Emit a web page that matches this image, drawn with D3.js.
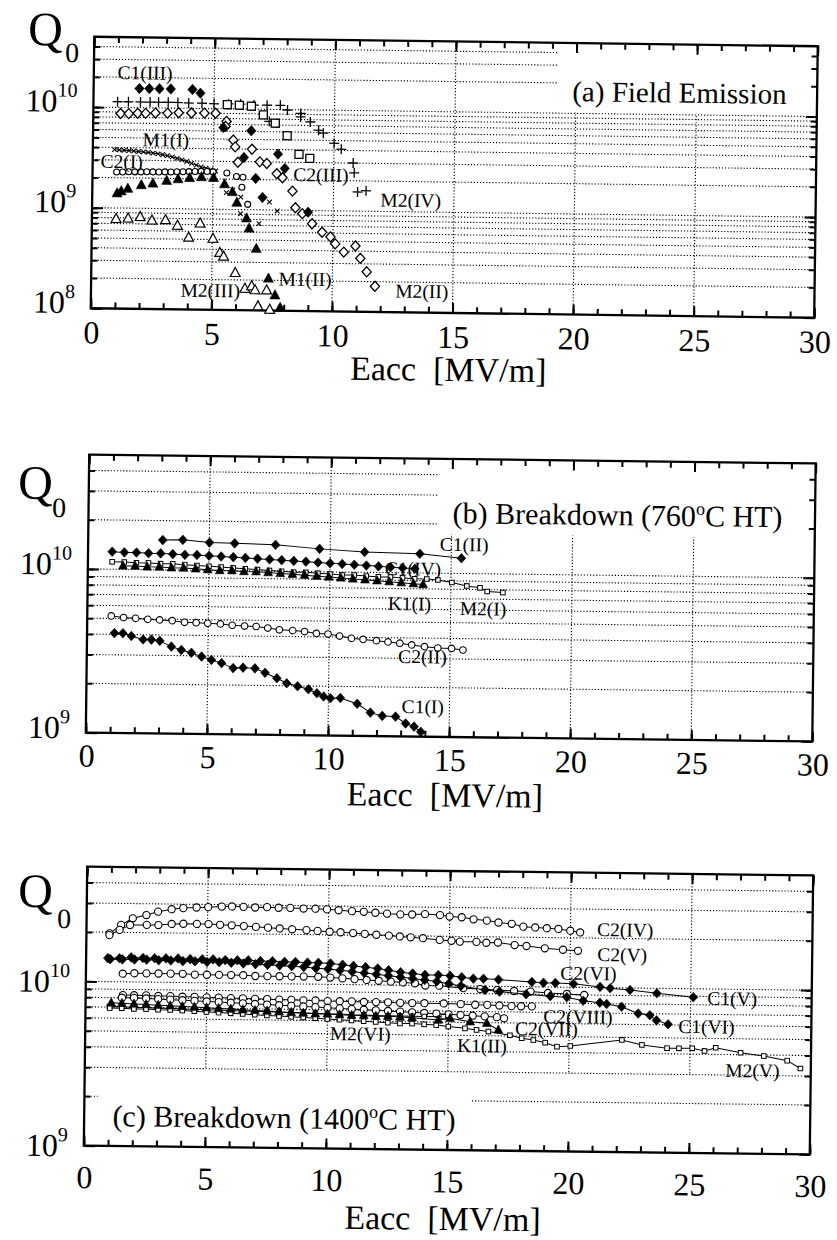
<!DOCTYPE html>
<html><head><meta charset="utf-8">
<script src="https://cdn.jsdelivr.net/npm/d3@7"></script>
<style>
body{margin:0;background:#fff}
svg{display:block}
text{font-family:"Liberation Serif","Times New Roman",serif;fill:#000}
</style>
</head><body>
<script>
// ======================= DATA =======================
const xTickValues = [0,5,10,15,20,25,30];
const xTitle = ["Eacc", "[MV/m]"];
const yTitle = ["Q", "0"];
const yExpA = [8,9,10];
const yExpB = [9,10];
const yExpC = [9,10];
const titleA = [["(a) Field Emission",false]];
const titleB = [["(b) Breakdown (760",false],["o",true],["C HT)",false]];
const titleC = [["(c) Breakdown (1400",false],["o",true],["C HT)",false]];

// ---- panel (a) Field Emission ----
const a_C1_III = [[1.9,1.55e10],[2.31,1.55e10],[2.73,1.55e10],[3.2,1.55e10],[4.1,1.54e10],[4.43,1.42e10],[5.4,6.5e9],[6.56,6.1e9],[6.27,3.3e9],[7.68,3.6e9],[6.77,2.05e9],[7.97,2.6e9],[7.06,1.33e9],[8.96,9.6e8]];
const a_M2_IV = [[1.0,1.14e10],[1.45,1.14e10],[1.95,1.14e10],[2.35,1.14e10],[2.7,1.14e10],[3.1,1.14e10],[3.5,1.14e10],[3.95,1.13e10],[4.5,1.13e10],[5.0,1.12e10],[5.6,1.12e10],[6.1,1.12e10],[6.65,1.1e10],[7.2,1.1e10],[7.3,7.6e9],[7.75,1.1e10],[8.05,9.9e9],[8.6,9.2e9],[8.6,8.5e9],[9.0,7.6e9],[9.35,6.3e9],[9.55,5.9e9],[10.0,4.7e9],[10.3,4.1e9],[10.8,3.0e9],[10.85,2.4e9],[11.0,1.55e9],[11.35,1.6e9]];
const a_C2_III = [[5.55,1.1e10],[6.05,1.09e10],[6.55,1.07e10],[7.05,8.8e9],[7.55,7.3e9],[8.05,5.5e9],[8.55,3.6e9],[9.0,3.3e9]];
const a_M2_II = [[1.13,8.7e9],[1.47,8.7e9],[1.84,8.8e9],[2.17,8.8e9],[2.58,8.9e9],[3.08,8.9e9],[3.54,9.0e9],[4.07,9.0e9],[4.61,9.0e9],[5.07,9.0e9],[5.53,7.5e9],[5.49,6.7e9],[5.82,4.9e9],[5.9,4.2e9],[6.6,4.0e9],[6.02,2.95e9],[6.93,3.0e9],[7.22,2.9e9],[7.64,2.3e9],[7.88,2.1e9],[8.3,1.55e9],[8.43,1.06e9],[8.72,9.3e8],[9.13,7.4e8],[9.55,6.1e8],[9.9,5.5e8],[10.1,4.7e8],[10.46,3.9e8],[10.94,4.5e8],[11.15,3.4e8],[11.42,2.5e8],[11.77,1.8e8]];
const a_M1_I = [[0.9,3.8e9],[1.1,3.78e9],[1.3,3.76e9],[1.5,3.74e9],[1.7,3.71e9],[1.9,3.67e9],[2.1,3.64e9],[2.3,3.6e9],[2.5,3.55e9],[2.7,3.5e9],[2.9,3.43e9],[3.1,3.36e9],[3.3,3.27e9],[3.5,3.17e9],[3.7,3.07e9],[3.9,2.96e9],[4.1,2.84e9],[4.3,2.73e9],[4.5,2.63e9],[4.7,2.55e9],[4.9,2.47e9],[5.1,2.4e9]];
const a_M1_I_tail = [[5.56,1.47e9],[5.82,1.57e9],[6.16,1.33e9],[6.16,9.1e8],[6.93,7.3e8],[7.35,1.2e9],[7.68,9.8e8]];
const a_C2_I = [[1.0,2.28e9],[1.25,2.28e9],[1.5,2.3e9],[1.75,2.3e9],[2.0,2.3e9],[2.25,2.31e9],[2.5,2.31e9],[2.75,2.31e9],[3.0,2.32e9],[3.25,2.32e9],[3.5,2.33e9],[3.75,2.34e9],[4.0,2.35e9],[4.25,2.36e9],[4.5,2.37e9],[4.75,2.37e9],[5.0,2.35e9],[5.57,2.3e9],[5.97,2.13e9],[6.24,2.1e9],[6.2,1.67e9],[6.45,1.13e9]];
const a_M1_II = [[1.03,1.4e9],[1.2,1.47e9],[1.47,1.56e9],[2.03,1.7e9],[2.51,1.77e9],[3.08,1.89e9],[3.55,1.97e9],[4.03,2.03e9],[4.52,2.08e9],[5.02,2.05e9],[5.48,1.78e9],[5.81,1.49e9],[6.0,1.17e9],[6.41,8.2e8],[6.52,6.5e8],[6.83,4.1e8],[7.35,2.08e8],[7.63,1.42e8],[7.85,1.07e8]];
const a_M2_III = [[1.0,7.8e8],[1.5,7.9e8],[2.0,8.2e8],[2.49,7.6e8],[3.05,7.7e8],[3.55,6.8e8],[4.02,5.2e8],[4.49,7.2e8],[5.03,5.1e8],[5.32,3.7e8],[5.48,3.4e8],[5.97,2.35e8],[6.38,1.64e8],[6.66,1.74e8],[6.8,1.59e8],[7.28,1.59e8],[6.93,1.1e8],[7.42,1.02e8]];

// ---- panel (b) Breakdown 760C ----
const b_C1_II = [[3.08,1.52e10],[3.91,1.53e10],[5.01,1.48e10],[6.05,1.47e10],[7.74,1.45e10],[9.56,1.38e10],[11.42,1.33e10],[13.7,1.31e10],[15.42,1.24e10]];
const b_C1_IV = [[1.0,1.28e10],[1.5,1.27e10],[2.0,1.27e10],[2.5,1.26e10],[3.0,1.26e10],[3.5,1.25e10],[4.0,1.24e10],[4.5,1.24e10],[5.0,1.23e10],[5.5,1.22e10],[6.0,1.21e10],[6.5,1.2e10],[7.0,1.19e10],[7.5,1.18e10],[8.0,1.17e10],[8.5,1.16e10],[9.0,1.15e10],[9.5,1.14e10],[10.0,1.13e10],[10.5,1.12e10],[11.0,1.11e10],[11.5,1.1e10],[12.0,1.09e10],[12.5,1.08e10],[13.0,1.07e10],[13.5,1.06e10]];
const b_M2_I = [[1.0,1.11e10],[1.5,1.11e10],[2.0,1.1e10],[2.5,1.1e10],[3.0,1.09e10],[3.5,1.09e10],[4.0,1.08e10],[4.5,1.07e10],[5.0,1.06e10],[5.5,1.05e10],[6.0,1.04e10],[6.5,1.03e10],[7.0,1.02e10],[7.5,1.01e10],[8.0,1.0e10],[8.5,9.9e9],[9.0,9.9e9],[9.5,9.8e9],[10.0,9.7e9],[10.5,9.6e9],[11.0,9.6e9],[11.5,9.5e9],[12.0,9.4e9],[12.5,9.4e9],[13.0,9.3e9],[13.5,9.2e9],[14.0,9.2e9],[14.46,9.1e9],[15.04,8.8e9],[15.66,8.4e9],[16.2,8.2e9],[16.5,7.8e9],[17.15,7.7e9]];
const b_K1_I = [[1.45,1.05e10],[1.95,1.05e10],[2.45,1.04e10],[2.95,1.04e10],[3.45,1.03e10],[3.95,1.03e10],[4.45,1.02e10],[4.95,1.01e10],[5.45,1.0e10],[5.95,1.0e10],[6.45,9.9e9],[6.95,9.9e9],[7.45,9.8e9],[7.95,9.7e9],[8.45,9.6e9],[8.95,9.5e9],[9.45,9.4e9],[9.95,9.3e9],[10.45,9.2e9],[10.95,9.1e9],[11.45,9.0e9],[11.95,8.9e9],[12.45,8.8e9],[12.95,8.7e9],[13.45,8.6e9],[13.85,8.5e9]];
const b_C2_II = [[0.99,5.18e9],[1.5,5.08e9],[2.0,5.03e9],[2.5,4.97e9],[2.99,4.94e9],[3.51,4.9e9],[4.02,4.8e9],[4.5,4.78e9],[4.98,4.75e9],[5.5,4.72e9],[5.99,4.64e9],[6.5,4.6e9],[6.98,4.58e9],[7.46,4.49e9],[7.94,4.39e9],[8.49,4.35e9],[8.98,4.3e9],[9.47,4.2e9],[9.95,4.17e9],[10.43,4.06e9],[10.92,3.94e9],[11.4,3.89e9],[11.95,3.83e9],[12.43,3.77e9],[12.92,3.71e9],[13.41,3.63e9],[13.94,3.55e9],[14.49,3.49e9],[15.06,3.48e9],[15.53,3.41e9]];
const b_C1_I = [[1.13,4.07e9],[1.48,4.07e9],[1.83,3.92e9],[2.32,3.74e9],[2.66,3.74e9],[3.01,3.68e9],[3.49,3.4e9],[3.9,3.25e9],[4.32,3.13e9],[4.74,2.97e9],[5.15,2.84e9],[5.57,2.72e9],[6.05,2.54e9],[6.46,2.56e9],[6.95,2.54e9],[7.37,2.39e9],[7.86,2.22e9],[8.27,2.07e9],[8.72,1.99e9],[9.17,1.91e9],[9.52,1.81e9],[9.8,1.73e9],[10.08,1.69e9],[10.49,1.7e9],[11.19,1.57e9],[11.74,1.39e9],[12.23,1.33e9],[12.78,1.32e9],[13.2,1.2e9],[13.55,1.15e9],[13.83,1.07e9]];

// ---- panel (c) Breakdown 1400C ----
const c_C2_IV = [[0.96,1.97e10],[1.43,2.22e10],[1.91,2.44e10],[2.47,2.56e10],[2.95,2.69e10],[3.51,2.79e10],[3.99,2.84e10],[4.54,2.87e10],[5.02,2.89e10],[5.58,2.92e10],[6.0,2.93e10],[6.48,2.92e10],[6.96,2.9e10],[7.45,2.92e10],[7.93,2.9e10],[8.41,2.9e10],[8.96,2.88e10],[9.45,2.88e10],[9.93,2.86e10],[10.41,2.83e10],[10.96,2.8e10],[11.45,2.78e10],[11.93,2.75e10],[12.41,2.72e10],[12.96,2.7e10],[13.45,2.7e10],[13.98,2.72e10],[14.6,2.69e10],[15.0,2.64e10],[15.5,2.62e10],[15.99,2.55e10],[16.54,2.51e10],[17.02,2.45e10],[17.57,2.41e10],[18.05,2.32e10],[18.54,2.3e10],[19.02,2.28e10],[19.5,2.26e10],[19.99,2.21e10],[20.4,2.16e10]];
const c_C2_V = [[0.95,1.92e10],[1.37,2.07e10],[1.8,2.22e10],[2.49,2.23e10],[2.97,2.23e10],[3.52,2.27e10],[4.0,2.28e10],[4.56,2.28e10],[5.04,2.28e10],[5.52,2.26e10],[6.0,2.25e10],[6.5,2.23e10],[7.0,2.21e10],[7.5,2.19e10],[7.98,2.17e10],[8.5,2.15e10],[9.09,2.13e10],[9.55,2.11e10],[10.05,2.09e10],[10.5,2.08e10],[11.02,2.06e10],[11.5,2.04e10],[11.98,2.02e10],[12.5,2.0e10],[12.95,1.98e10],[13.4,1.96e10],[13.91,1.94e10],[14.6,1.9e10],[15.09,1.88e10],[15.43,1.86e10],[16.12,1.86e10],[16.53,1.84e10],[17.01,1.85e10],[17.7,1.79e10],[18.19,1.77e10],[18.95,1.72e10],[19.7,1.69e10],[20.32,1.67e10]];
const c_C2_VI = [[1.52,1.12e10],[2.0,1.13e10],[2.5,1.13e10],[3.0,1.13e10],[3.5,1.13e10],[4.0,1.13e10],[4.5,1.12e10],[5.0,1.12e10],[5.5,1.12e10],[6.0,1.12e10],[6.5,1.12e10],[7.0,1.11e10],[7.5,1.11e10],[8.0,1.11e10],[8.5,1.11e10],[9.0,1.11e10],[9.6,1.11e10],[10.1,1.1e10],[10.6,1.09e10],[11.1,1.08e10],[11.6,1.07e10],[12.1,1.06e10],[12.6,1.05e10],[13.1,1.04e10],[13.6,1.03e10],[14.03,1.0e10],[14.6,1.0e10],[15.6,9.7e9],[16.3,9.6e9],[17.0,9.5e9],[17.7,9.4e9],[18.38,9.35e9],[19.1,9.2e9],[19.88,9.1e9],[20.6,9.0e9]];
const c_C1_V = [[0.9,1.39e10],[1.38,1.39e10],[1.86,1.41e10],[2.35,1.4e10],[2.83,1.4e10],[3.3,1.4e10],[3.8,1.4e10],[4.3,1.39e10],[4.8,1.39e10],[5.25,1.39e10],[5.75,1.38e10],[6.25,1.38e10],[6.7,1.38e10],[7.2,1.37e10],[7.7,1.37e10],[8.2,1.36e10],[8.65,1.36e10],[9.15,1.35e10],[9.6,1.35e10],[10.1,1.34e10],[10.6,1.32e10],[11.05,1.3e10],[11.55,1.28e10],[12.05,1.26e10],[12.5,1.23e10],[13.0,1.2e10],[13.5,1.18e10],[14.01,1.16e10],[14.56,1.16e10],[15.05,1.15e10],[15.53,1.13e10],[16.01,1.11e10],[16.43,1.11e10],[17.05,1.1e10],[18.43,1.07e10],[18.91,1.06e10],[19.4,1.06e10],[20.15,1.05e10],[21.25,1.01e10],[21.67,9.93e9],[22.49,9.73e9],[23.6,9.33e9],[25.11,8.88e9]];
const c_C1_VI = [[1.0,1.37e10],[1.5,1.37e10],[2.0,1.37e10],[2.5,1.37e10],[3.0,1.36e10],[3.5,1.36e10],[4.0,1.35e10],[4.5,1.35e10],[5.0,1.34e10],[5.5,1.34e10],[6.0,1.33e10],[6.5,1.32e10],[7.0,1.31e10],[7.5,1.3e10],[8.0,1.29e10],[8.5,1.28e10],[9.0,1.27e10],[9.5,1.25e10],[10.0,1.24e10],[10.5,1.22e10],[11.0,1.2e10],[11.5,1.18e10],[12.0,1.16e10],[12.5,1.14e10],[13.0,1.12e10],[13.5,1.1e10],[14.0,1.08e10],[14.5,1.06e10],[15.0,1.03e10],[15.5,1.0e10],[16.5,9.5e9],[17.1,9.3e9],[18.2,9.0e9],[19.2,8.8e9],[19.88,8.7e9],[20.56,8.3e9],[21.25,8.09e9],[21.53,7.96e9],[22.15,7.68e9],[22.84,7.0e9],[23.32,6.85e9],[23.6,6.38e9],[24.08,6.05e9]];
const c_C2_VIII = [[1.54,8.3e9],[2.0,8.3e9],[2.5,8.3e9],[3.0,8.25e9],[3.5,8.25e9],[4.0,8.2e9],[4.5,8.2e9],[5.0,8.15e9],[5.5,8.15e9],[6.0,8.1e9],[6.5,8.1e9],[7.0,8.05e9],[7.5,8.05e9],[8.0,8.0e9],[8.5,8.0e9],[9.0,7.95e9],[9.5,7.95e9],[10.0,7.9e9],[10.5,7.9e9],[11.0,7.9e9],[11.5,7.85e9],[12.0,7.85e9],[12.5,7.85e9],[13.0,7.8e9],[13.5,7.8e9],[14.0,7.8e9],[14.8,7.8e9],[15.5,7.75e9],[16.1,7.7e9],[16.6,7.7e9],[17.1,7.65e9],[17.6,7.6e9],[18.0,7.6e9],[18.44,7.6e9]];
const c_C2_VII = [[1.5,8.0e9],[2.0,8.0e9],[2.5,7.95e9],[3.0,7.9e9],[3.5,7.85e9],[4.0,7.8e9],[4.5,7.75e9],[5.0,7.7e9],[5.5,7.65e9],[6.0,7.6e9],[6.5,7.55e9],[7.0,7.5e9],[7.5,7.45e9],[8.0,7.4e9],[8.5,7.35e9],[9.0,7.3e9],[9.5,7.25e9],[10.0,7.2e9],[10.5,7.15e9],[11.0,7.1e9],[11.5,7.05e9],[12.0,7.0e9],[12.5,6.95e9],[13.0,6.9e9],[13.5,6.85e9],[14.0,6.8e9],[14.5,6.75e9],[15.0,6.7e9],[15.5,6.65e9],[16.0,6.6e9],[16.5,6.55e9],[17.0,6.5e9],[17.3,6.4e9]];
const c_M2_VI = [[0.99,7.05e9],[1.5,7.05e9],[2.0,7.0e9],[2.5,7.0e9],[3.0,6.95e9],[3.5,6.95e9],[4.0,6.9e9],[4.5,6.9e9],[5.0,6.85e9],[5.5,6.85e9],[6.0,6.8e9],[6.5,6.8e9],[7.0,6.75e9],[7.5,6.75e9],[8.0,6.7e9],[8.5,6.7e9],[9.0,6.65e9],[9.5,6.65e9],[10.0,6.6e9],[10.5,6.6e9],[11.0,6.55e9],[11.5,6.55e9],[12.0,6.5e9],[12.5,6.5e9],[13.0,6.5e9],[13.5,6.48e9],[14.0,6.47e9],[14.79,6.47e9]];
const c_M2_V = [[1.0,6.9e9],[1.5,6.9e9],[2.0,6.85e9],[2.5,6.85e9],[3.0,6.8e9],[3.5,6.8e9],[4.0,6.75e9],[4.5,6.7e9],[5.0,6.65e9],[5.5,6.6e9],[6.0,6.55e9],[6.5,6.5e9],[7.0,6.45e9],[7.5,6.4e9],[8.0,6.35e9],[8.5,6.3e9],[9.0,6.25e9],[9.5,6.2e9],[10.0,6.15e9],[10.5,6.1e9],[11.0,6.05e9],[11.5,6.0e9],[12.0,5.95e9],[12.5,5.9e9],[13.0,5.85e9],[13.5,5.85e9],[14.0,5.8e9],[14.5,5.75e9],[15.0,5.65e9],[15.69,5.52e9],[16.17,5.41e9],[16.66,5.3e9],[17.55,5.05e9],[18.04,4.85e9],[18.52,4.74e9],[19.01,4.58e9],[19.5,4.34e9],[20.05,4.39e9],[22.18,4.82e9],[23.01,4.51e9],[24.05,4.33e9],[24.54,4.33e9],[25.09,4.34e9],[25.6,4.19e9],[26.06,4.39e9],[27.09,4.11e9],[28.05,3.94e9],[29.02,3.71e9],[29.57,3.33e9]];
const c_K1_II = [[1.06,7.43e9],[1.5,7.4e9],[2.0,7.35e9],[2.5,7.3e9],[3.0,7.25e9],[3.5,7.2e9],[4.0,7.15e9],[4.5,7.1e9],[5.0,7.05e9],[5.5,7.0e9],[6.0,6.95e9],[6.5,6.9e9],[7.0,6.85e9],[7.5,6.8e9],[8.0,6.75e9],[8.5,6.7e9],[9.0,6.65e9],[9.5,6.6e9],[10.0,6.6e9],[10.5,6.55e9],[11.0,6.5e9],[11.5,6.5e9],[12.0,6.45e9],[12.5,6.45e9],[13.0,6.4e9],[13.5,6.35e9],[14.58,6.18e9],[15.07,6.34e9],[15.9,6.06e9],[16.59,5.95e9],[17.07,5.43e9]];

// ======================= LAYOUT / STYLE =======================
const W = 837, H = 1240;
const SERIF = '"Liberation Serif","Times New Roman",serif';
function circ(r){return `M${r},0A${r},${r} 0 1,1 ${-r},0A${r},${r} 0 1,1 ${r},0Z`;}
const SYM = {
  dfill:{d:"M0,-5.2L4.7,0L0,5.2L-4.7,0Z",fill:"#000",stroke:"#000",sw:0.6},
  dfillS:{d:"M0,-4.8L4.4,0L0,4.8L-4.4,0Z",fill:"#000",stroke:"#000",sw:0.6},
  dopen:{d:"M0,-5L4.6,0L0,5L-4.6,0Z",fill:"#fff",stroke:"#000",sw:1.3},
  plus:{d:"M-5,0H5M0,-5V5",fill:"none",stroke:"#000",sw:1.3},
  xs:{d:"M-2.3,-2.3L2.3,2.3M-2.3,2.3L2.3,-2.3",fill:"none",stroke:"#000",sw:1.1},
  sq:{d:"M-4,-4H4V4H-4Z",fill:"#fff",stroke:"#000",sw:1.3},
  sqs:{d:"M-2.3,-2.3H2.3V2.3H-2.3Z",fill:"#fff",stroke:"#000",sw:1.0},
  circA:{d:circ(3.0),fill:"#fff",stroke:"#000",sw:1.1},
  circB:{d:circ(3.3),fill:"#fff",stroke:"#000",sw:1.1},
  circC:{d:circ(3.6),fill:"#fff",stroke:"#000",sw:1.1},
  tfill:{d:"M0,-5.6L5,3.6H-5Z",fill:"#000",stroke:"#000",sw:0.6},
  tfillS:{d:"M0,-5L4.4,3.2H-4.4Z",fill:"#000",stroke:"#000",sw:0.6},
  topen:{d:"M0,-5.4L4.9,3.6H-4.9Z",fill:"#fff",stroke:"#000",sw:1.2}
};

const panels = [
 {left:92.5,right:816,top:41.5,bottom:313,yMin:1e8,angle:0.75,exps:yExpA,
  tickLab:35,axisLab:68,yLabOff:5,q:{x:26.3,y:50.7,sx:63.5,sy:67.2},
  title:titleA,titlePos:[19.85,1.70e10],titleSize:29,box:"topright",
  series:[
    {data:a_M2_IV,mark:"plus"},{data:a_C2_III,mark:"sq"},{data:a_M2_II,mark:"dopen"},
    {data:a_C1_III,mark:"dfill"},{data:a_M1_I,mark:"xs",line:true},{data:a_M1_I_tail,mark:"xs"},
    {data:a_C2_I,mark:"circA"},{data:a_M1_II,mark:"tfill"},{data:a_M2_III,mark:"topen"}],
  labels:[["C1(III)",0.98,1.91e10],["M1(I)",2.06,4.15e9],["C2(I)",0.33,2.5e9],["C2(III)",8.33,1.95e9],
          ["M2(IV)",11.95,1.12e9],["M1(II)",7.77,1.78e8],["M2(III)",3.71,1.34e8],["M2(II)",12.62,1.4e8]]},
 {left:87.5,right:814,top:459,bottom:737,yMin:1e9,angle:0.7,exps:yExpB,
  tickLab:34,axisLab:69.5,yLabOff:6,q:{x:16.8,y:503.8,sx:51,sy:521.9},
  title:titleB,titlePos:[15.04,2.38e10],titleSize:30,box:"topright",
  series:[
    {data:b_C1_II,mark:"dfillS",line:true},{data:b_C1_IV,mark:"dfillS",line:true},
    {data:b_M2_I,mark:"sqs",line:true},{data:b_K1_I,mark:"tfillS",line:true},
    {data:b_C2_II,mark:"circB",line:true},{data:b_C1_I,mark:"dfillS",line:true}],
  labels:[["C1(II)",14.52,1.37e10],["C1(IV)",12.26,9.66e9],["K1(I)",12.4,5.9e9],["M2(I)",15.38,5.57e9],
          ["C2(II)",12.86,2.81e9],["C1(I)",13.03,1.39e9]]},
 {left:85.5,right:811.5,top:871,bottom:1150,yMin:1e9,angle:0.7,exps:yExpC,
  tickLab:42.5,axisLab:80,yLabOff:11,q:{x:16.7,y:912.1,sx:56,sy:932.8},
  title:titleC,titlePos:[1.17,1.55e9],titleSize:30,box:"inline",vGridMin:3e9,
  series:[
    {data:c_C2_IV,mark:"circC",line:true},{data:c_C2_V,mark:"circC",line:true},
    {data:c_C2_VI,mark:"circC",line:true},{data:c_C1_V,mark:"dfillS",line:true},
    {data:c_C1_VI,mark:"dfillS",line:true},{data:c_C2_VIII,mark:"circC",line:true},
    {data:c_C2_VII,mark:"circC",line:true},{data:c_M2_VI,mark:"sqs",line:true},
    {data:c_M2_V,mark:"sqs",line:true},{data:c_K1_II,mark:"tfillS",line:true}],
  labels:[["C2(IV)",21.1,2.06e10],["C2(V)",21.12,1.45e10],["C2(VI)",19.6,1.11e10],["C1(V)",25.69,8.0e9],
          ["C2(VIII)",18.92,6.04e9],["C1(VI)",24.5,5.37e9],["C2(VII)",17.76,5.07e9],["K1(II)",15.37,3.95e9],
          ["M2(VI)",10.11,4.58e9],["M2(V)",26.47,2.92e9]]}
];

// ======================= DRAW =======================
const svg = d3.select("body").append("svg").attr("width",W).attr("height",H)
  .attr("font-family",SERIF);

panels.forEach(P => {
  const cx = (P.left+P.right)/2, cy = (P.top+P.bottom)/2;
  const g = svg.append("g").attr("transform",`rotate(${P.angle},${cx},${cy})`);
  const x = d3.scaleLinear().domain([0,30]).range([P.left,P.right]);
  const y = d3.scaleLog().domain([P.yMin,5e10]).range([P.bottom,P.top]);
  const yAll = y.ticks().filter(v => v > P.yMin*1.001 && v < 5e10*0.999);
  const yMajor = P.exps.map(e => Math.pow(10,e));

  // grid (dotted)
  const grid = g.append("g").attr("stroke","#000").attr("stroke-width",1.1).attr("stroke-dasharray","1.2,1.9");
  grid.selectAll("line.h").data(yAll).join("line").attr("class","h")
    .attr("x1",P.left).attr("x2",P.right).attr("y1",d=>y(d)).attr("y2",d=>y(d));
  const vBottom = P.vGridMin ? y(P.vGridMin) : P.bottom;
  grid.selectAll("line.v").data([5,10,15,20,25]).join("line").attr("class","v")
    .attr("x1",d=>x(d)).attr("x2",d=>x(d)).attr("y1",P.top).attr("y2",vBottom);

  // title with white box
  const boxG = g.append("g");
  const tt = g.append("text").attr("x",x(P.titlePos[0])).attr("y",y(P.titlePos[1]))
    .attr("font-size",P.titleSize);
  P.title.forEach(([s,sup]) => {
    if (sup) tt.append("tspan").attr("font-size",P.titleSize*0.6).attr("dy",-P.titleSize*0.38).text(s);
    else tt.append("tspan").attr("dy", tt.selectAll("tspan").size() ? P.titleSize*0.38 : 0).text(s);
  });
  const bb = tt.node().getBBox();
  if (P.box === "topright") {
    boxG.append("rect").attr("x",bb.x-14).attr("y",P.top+1.5)
      .attr("width",P.right-1.5-(bb.x-14)).attr("height",bb.y+bb.height+4-(P.top+1.5)).attr("fill","#fff");
  } else {
    const top = y(3e9)+8;
    boxG.append("rect").attr("x",bb.x-15).attr("y",top).attr("width",bb.width+30)
      .attr("height",P.bottom-1.5-top).attr("fill","#fff");
  }

  // frame
  g.append("rect").attr("x",P.left).attr("y",P.top).attr("width",P.right-P.left).attr("height",P.bottom-P.top)
    .attr("fill","none").attr("stroke","#000").attr("stroke-width",2.3);

  // ticks via d3 axes (pointing inward)
  const xMinor = d3.range(0,31,1), xMajor = xTickValues;
  const tickStyle = sel => { sel.select(".domain").remove(); sel.selectAll("line").attr("stroke","#000").attr("stroke-width",2); sel.selectAll("text").remove(); };
  g.append("g").attr("transform",`translate(0,${P.bottom})`).call(d3.axisBottom(x).tickValues(xMinor).tickSize(-6).tickFormat("")).call(tickStyle);
  g.append("g").attr("transform",`translate(0,${P.bottom})`).call(d3.axisBottom(x).tickValues(xMajor).tickSize(-10).tickFormat("")).call(tickStyle);
  g.append("g").attr("transform",`translate(0,${P.top})`).call(d3.axisTop(x).tickValues(xMinor).tickSize(-6).tickFormat("")).call(tickStyle);
  g.append("g").attr("transform",`translate(0,${P.top})`).call(d3.axisTop(x).tickValues(xMajor).tickSize(-10).tickFormat("")).call(tickStyle);
  g.append("g").attr("transform",`translate(${P.left},0)`).call(d3.axisLeft(y).tickValues(yAll).tickSize(-6).tickFormat("")).call(tickStyle);
  g.append("g").attr("transform",`translate(${P.left},0)`).call(d3.axisLeft(y).tickValues(yMajor).tickSize(-11).tickFormat("")).call(tickStyle);
  g.append("g").attr("transform",`translate(${P.right},0)`).call(d3.axisRight(y).tickValues(yAll).tickSize(-6).tickFormat("")).call(tickStyle);
  g.append("g").attr("transform",`translate(${P.right},0)`).call(d3.axisRight(y).tickValues(yMajor).tickSize(-11).tickFormat("")).call(tickStyle);

  // series
  P.series.forEach(s => {
    if (s.line) {
      g.append("path").datum(s.data)
        .attr("d",d3.line().x(d=>x(d[0])).y(d=>y(d[1])))
        .attr("fill","none").attr("stroke","#000").attr("stroke-width",1);
    }
    const m = SYM[s.mark];
    g.append("g").selectAll("path").data(s.data).join("path")
      .attr("transform",d=>`translate(${x(d[0])},${y(d[1])})`)
      .attr("d",m.d).attr("fill",m.fill).attr("stroke",m.stroke).attr("stroke-width",m.sw);
  });

  // series labels
  g.append("g").selectAll("text").data(P.labels).join("text")
    .attr("x",d=>x(d[1])).attr("y",d=>y(d[2])).attr("font-size",19.5).text(d=>d[0]);

  // x tick labels
  g.append("g").selectAll("text").data(xTickValues).join("text")
    .attr("x",d=>x(d)+1).attr("y",P.bottom+P.tickLab).attr("text-anchor","middle")
    .attr("font-size",32).text(d=>d);

  // y tick labels 10^n
  const yl = g.append("g").selectAll("text").data(P.exps).join("text")
    .attr("x",P.left-16).attr("y",e=>y(Math.pow(10,e))+P.yLabOff).attr("text-anchor","end").attr("font-size",32);
  yl.append("tspan").text("10");
  yl.append("tspan").attr("font-size",20).attr("dy",-15).text(e=>e);

  // axis titles
  g.append("text").attr("x",cx-3.5).attr("y",P.bottom+P.axisLab).attr("text-anchor","middle")
    .attr("font-size",34).text(xTitle[0]+"\u00a0\u00a0"+xTitle[1]);
  g.append("text").attr("x",P.q.x).attr("y",P.q.y).attr("font-size",48).text(yTitle[0]);
  g.append("text").attr("x",P.q.sx).attr("y",P.q.sy).attr("font-size",28).text(yTitle[1]);
});
</script>
</body></html>
